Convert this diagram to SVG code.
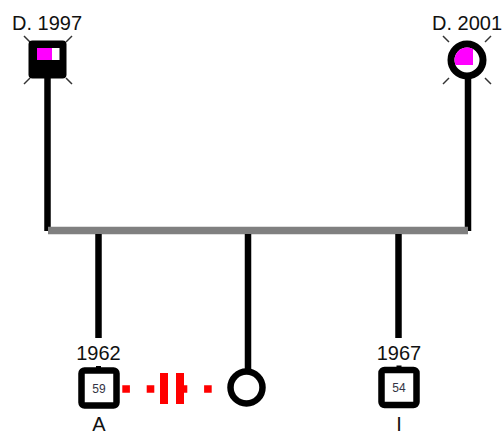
<svg xmlns="http://www.w3.org/2000/svg" width="502" height="432" viewBox="0 0 502 432">
  <style>
    .lbl { font-family: "Liberation Sans", Arial, sans-serif; font-size: 20px; fill: #111; text-anchor: middle; }
    .age { font-family: "Liberation Sans", Arial, sans-serif; font-size: 12px; fill: #334; text-anchor: middle; }
    .line { stroke: #000; stroke-width: 6.5; fill: none; }
    .sib { stroke: #808080; stroke-width: 7.5; fill: none; }
    .tick { stroke: #333; stroke-width: 1.5; }
    .node { stroke: #000; stroke-width: 6.5; fill: #fff; }
    .rel { stroke: #ff0000; stroke-width: 7.5; stroke-dasharray: 7.6 16.8; fill: none; }
  </style>
  <defs>
    <clipPath id="innerDisc">
      <circle cx="467" cy="60" r="12.5"/>
    </clipPath>
  </defs>

  <!-- connectors -->
  <g id="connectors">
    <line class="line" x1="47.5" y1="76" x2="47.5" y2="231"/>
    <line class="line" x1="468" y1="76" x2="468" y2="231"/>
    <line class="sib" x1="48" y1="230.5" x2="468" y2="230.5"/>
    <line class="line" x1="98.5" y1="234" x2="98.5" y2="338"/>
    <line class="line" x1="248" y1="234" x2="248" y2="370"/>
    <line class="line" x1="398.5" y1="234" x2="398.5" y2="338"/>
    <!-- relationship between A and sibling -->
    <line class="rel" x1="122.3" y1="389" x2="160" y2="389"/>
    <line class="rel" x1="211.7" y1="389" x2="184" y2="389"/>
    <rect x="160" y="373" width="8" height="31" fill="#ff0000"/>
    <rect x="176" y="373" width="8" height="31" fill="#ff0000"/>
  </g>

  <!-- father, deceased 1997 -->
  <g id="father">
    <text class="lbl" x="47" y="30">D. 1997</text>
    <line class="tick" x1="24" y1="36" x2="30" y2="42"/>
    <line class="tick" x1="72" y1="36" x2="66" y2="42"/>
    <line class="tick" x1="24" y1="84" x2="30" y2="78"/>
    <line class="tick" x1="72" y1="84" x2="66" y2="78"/>
    <rect x="28.5" y="40.5" width="38" height="38" rx="4" fill="#000"/>
    <rect x="37" y="48" width="15" height="12" fill="#ff00ff"/>
    <rect x="52" y="48" width="7.5" height="12" fill="#fff"/>
  </g>

  <!-- mother, deceased 2001 -->
  <g id="mother">
    <text class="lbl" x="467" y="30">D. 2001</text>
    <line class="tick" x1="443" y1="36" x2="449" y2="42"/>
    <line class="tick" x1="491" y1="36" x2="485" y2="42"/>
    <line class="tick" x1="443" y1="84" x2="449" y2="78"/>
    <line class="tick" x1="491" y1="84" x2="485" y2="78"/>
    <circle cx="467" cy="60" r="16" stroke="#000" stroke-width="7" fill="#fff"/>
    <rect x="450" y="40" width="23" height="25" fill="#ff00ff" clip-path="url(#innerDisc)"/>
  </g>

  <!-- child A -->
  <g id="childA">
    <text class="lbl" x="98.5" y="359.5">1962</text>
    <rect class="node" x="81.5" y="370.5" width="35" height="35" rx="3"/>
    <rect x="96" y="366" width="5" height="3" fill="#000"/>
    <text class="age" x="99" y="392.5">59</text>
    <text class="lbl" x="99" y="431">A</text>
  </g>

  <!-- daughter -->
  <g id="daughter">
    <circle class="node" cx="246.5" cy="387.5" r="16"/>
  </g>

  <!-- child I -->
  <g id="childI">
    <text class="lbl" x="399" y="359.5">1967</text>
    <rect class="node" x="381.5" y="370" width="35" height="35" rx="3"/>
    <rect x="396.5" y="365.5" width="5" height="3" fill="#000"/>
    <text class="age" x="399" y="392">54</text>
    <text class="lbl" x="399" y="431">I</text>
  </g>
</svg>
